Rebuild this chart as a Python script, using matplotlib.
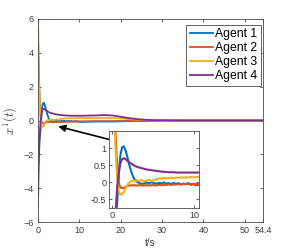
import matplotlib
matplotlib.use('Agg')
import matplotlib.pyplot as plt

plt.rcParams['font.family'] = ['Liberation Sans', 'DejaVu Sans']
plt.rcParams['mathtext.fontset'] = 'cm'

# time samples (s)
t = [0, 0.1, 0.2, 0.3, 0.4, 0.5, 0.6, 0.7, 0.8, 0.9, 1.0,
     1.2, 1.4, 1.6, 1.8, 2.0, 2.2, 2.4, 2.6, 2.8, 3.0,
     3.3, 3.6, 3.9, 4.2, 4.5, 4.8, 5.1, 5.4, 5.7, 6.0, 6.3, 6.6,
     6.9, 7.2, 7.5, 7.8, 8.1, 8.4, 8.7, 9.0, 9.3, 9.6, 9.9, 10.2,
     10.6, 12, 14, 16, 18, 20, 22, 24, 26, 28, 30,
     34, 38, 42, 46, 50, 54.4]

agent1 = [-3.0, -2.3, -1.7, -1.3, -1.0, -0.85, -0.6, -0.2, 0.2, 0.55, 0.8,
          1.02, 1.05, 0.95, 0.78, 0.58, 0.4, 0.25, 0.13, 0.05, 0.01,
          -0.03, -0.05, -0.04, -0.01, -0.04, 0.0, -0.03, -0.05, -0.02, -0.04, -0.01, -0.05,
          -0.03, -0.06, -0.02, -0.05, -0.03, -0.07, -0.04, -0.06, -0.03, -0.08, -0.06, -0.09,
          -0.08, -0.07, -0.06, -0.06, -0.06, -0.05, -0.04, -0.03, -0.02, -0.01, 0.0,
          0.0, 0.0, 0.0, 0.0, 0.0, 0.0]

agent2 = [6.0, 4.4, 3.1, 2.1, 1.4, 0.9, 0.5, 0.2, 0.0, -0.1, -0.15,
          -0.18, -0.17, -0.14, -0.12, -0.1, -0.1, -0.09, -0.1, -0.09, -0.1,
          -0.09, -0.1, -0.1, -0.09, -0.1, -0.09, -0.09, -0.1, -0.08, -0.09, -0.08, -0.08,
          -0.07, -0.08, -0.07, -0.07, -0.06, -0.07, -0.06, -0.06, -0.06, -0.05, -0.06, -0.05,
          -0.05, -0.05, -0.04, -0.04, -0.04, -0.03, -0.03, -0.02, -0.01, -0.01, 0.0,
          0.0, 0.0, 0.0, 0.0, 0.0, 0.0]

agent3 = [5.0, 3.5, 2.4, 1.6, 1.0, 0.5, 0.15, -0.1, -0.25, -0.33, -0.37,
          -0.36, -0.3, -0.2, -0.1, -0.03, 0.01, 0.03, 0.05, 0.02, 0.06,
          0.03, 0.06, 0.02, 0.05, 0.07, 0.03, 0.06, 0.08, 0.11, 0.1, 0.12, 0.11,
          0.12, 0.13, 0.12, 0.13, 0.13, 0.14, 0.13, 0.14, 0.14, 0.15, 0.14, 0.15,
          0.15, 0.15, 0.15, 0.15, 0.15, 0.12, 0.08, 0.05, 0.03, 0.01, 0.0,
          0.0, 0.0, 0.0, 0.0, 0.0, 0.0]

agent4 = [-5.0, -3.6, -2.5, -1.6, -0.95, -0.5, -0.15, 0.1, 0.3, 0.45, 0.56,
          0.67, 0.7, 0.68, 0.64, 0.6, 0.56, 0.53, 0.5, 0.47, 0.45,
          0.43, 0.41, 0.39, 0.37, 0.36, 0.35, 0.34, 0.33, 0.32, 0.31, 0.3, 0.3,
          0.29, 0.29, 0.29, 0.28, 0.28, 0.28, 0.28, 0.28, 0.28, 0.28, 0.28, 0.28,
          0.28, 0.29, 0.3, 0.32, 0.3, 0.22, 0.14, 0.08, 0.04, 0.02, 0.01,
          0.0, 0.0, 0.0, 0.0, 0.0, 0.0]

labels = ['Agent 1', 'Agent 2', 'Agent 3', 'Agent 4']
colors = ['#0072BD', '#D95319', '#EDB120', '#7E2F8E']
series = [agent1, agent2, agent3, agent4]

x_ticks = [0, 10, 20, 30, 40, 50, 54.4]
x_ticklabels = ['0', '10', '20', '30', '40', '50', '54.4']
y_ticks = [-6, -4, -2, 0, 2, 4, 6]
inset_yticks = [-0.5, 0, 0.5, 1]
inset_yticklabels = ['-0.5', '0', '0.5', '1']

frame = '#4a4a4a'
txt = '#3a3a3a'

fig = plt.figure(figsize=(2.91, 2.5), dpi=100)
ax = fig.add_axes([38/291, 28/250, 225/291, 203/250])

for y, c, lab in zip(series, colors, labels):
    ax.plot(t, y, color=c, lw=1.3, label=lab)

ax.set_xlim(0, 54.4)
ax.set_ylim(-6, 6)
ax.set_xticks(x_ticks)
ax.set_xticklabels(x_ticklabels)
ax.set_yticks(y_ticks)
ax.tick_params(direction='in', length=2, width=0.6, labelsize=6.5,
               colors=frame, labelcolor=txt, top=True, right=True, pad=3)
for s in ax.spines.values():
    s.set_color(frame)
    s.set_linewidth(0.6)
ax.set_xlabel('t/s', fontsize=7, color=txt, labelpad=2)
ax.set_ylabel('$x^1(t)$', fontsize=9, color=txt, labelpad=3)

leg = ax.legend(loc='upper right', bbox_to_anchor=(0.992, 0.972), fontsize=8.8,
                handlelength=1.9, handletextpad=0.2, labelspacing=0.15,
                borderpad=0.3, borderaxespad=0, fancybox=False, framealpha=1)
leg.get_frame().set_edgecolor(frame)
leg.get_frame().set_linewidth(0.6)

ax.annotate('', xy=(4.9, -0.35), xytext=(17.2, -1.12),
            arrowprops=dict(arrowstyle='-|>', color='black', lw=1.2,
                            mutation_scale=10, shrinkA=0, shrinkB=0))

# zoomed inset
axi = fig.add_axes([109/291, 42/250, 90/291, 77/250])
for y, c in zip(series, colors):
    axi.plot(t, y, color=c, lw=1.5)
axi.set_xlim(-0.4, 10.6)
axi.set_ylim(-0.76, 1.5)
axi.set_xticks([0, 10])
axi.set_yticks(inset_yticks)
axi.set_yticklabels(inset_yticklabels)
axi.tick_params(direction='in', length=2, width=0.6, labelsize=6.5,
                colors=frame, labelcolor=txt, top=True, right=True, pad=2)
for s in axi.spines.values():
    s.set_color(frame)
    s.set_linewidth(0.6)

fig.savefig('out.png', dpi=100)
